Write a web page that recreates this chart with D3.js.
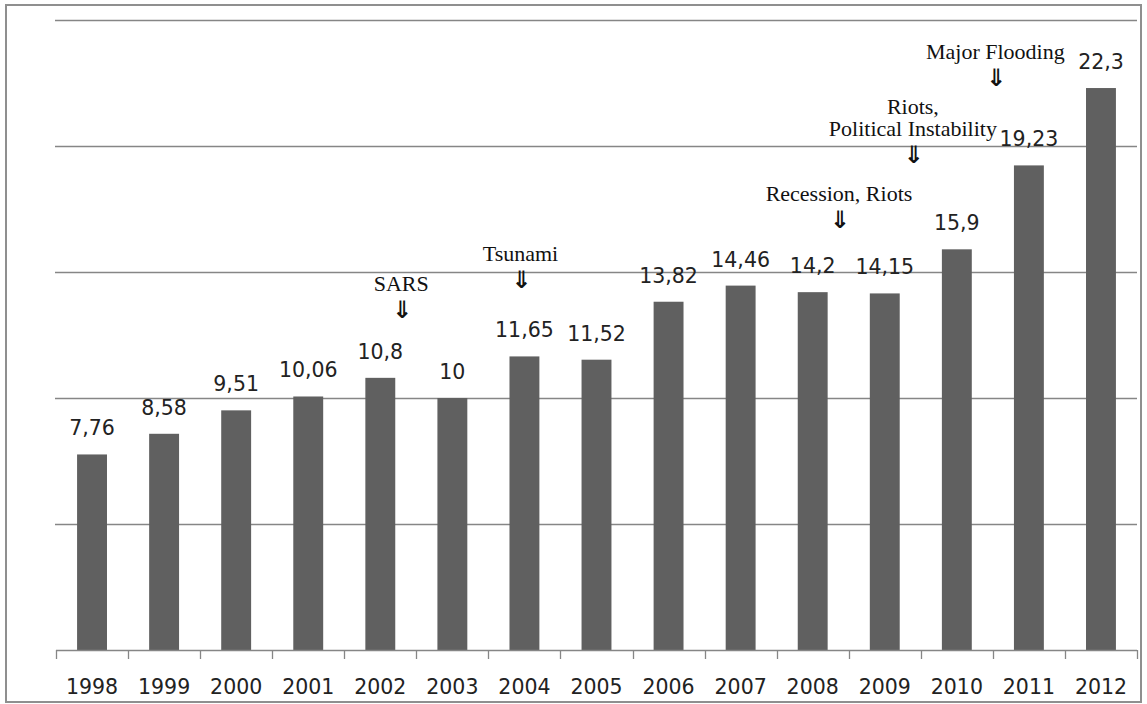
<!DOCTYPE html>
<html>
<head>
<meta charset="utf-8">
<script src="https://cdn.jsdelivr.net/npm/d3@7"></script>
<style>
  html, body { margin: 0; padding: 0; background: #fff; }
  svg { display: block; }
</style>
</head>
<body>
<svg id="chart" width="1147" height="704"></svg>
<script>
// ---- data ----
const years = ["1998","1999","2000","2001","2002","2003","2004","2005","2006","2007","2008","2009","2010","2011","2012"];
const values = [7.76, 8.58, 9.51, 10.06, 10.8, 10, 11.65, 11.52, 13.82, 14.46, 14.2, 14.15, 15.9, 19.23, 22.3];
const valueLabels = ["7,76","8,58","9,51","10,06","10,8","10","11,65","11,52","13,82","14,46","14,2","14,15","15,9","19,23","22,3"];
const yTicks = [0, 5, 10, 15, 20, 25];
// annotation events: text lines, anchor year, offset in bands from the band centre, value level of last text baseline
const eventLines = [["SARS"], ["Tsunami"], ["Recession, Riots"], ["Riots,", "Political Instability"], ["Major Flooding"]];
const eventYears = ["2002", "2004", "2008", "2009", "2011"];
const eventOffsets = [0.29, -0.055, 0.365, 0.39, -0.466];
const eventLevels = [14.24, 15.43, 17.82, 20.39, 23.45];

// ---- layout ----
const svg = d3.select("#chart");
const mLeft = 56, mRight = 1137, mTop = 20, mBottom = 650;

const x = d3.scaleBand().domain(years).range([mLeft, mRight]).padding(0);
const y = d3.scaleLinear().domain([0, 25]).range([mBottom, mTop]);
const bw = x.bandwidth();
const barW = bw * 0.415;

// frame
svg.append("rect")
  .attr("x", 6).attr("y", 5).attr("width", 1135).attr("height", 697)
  .attr("fill", "none").attr("stroke", "#8f8f8f").attr("stroke-width", 2);

// gridlines
svg.append("g").selectAll("line")
  .data(yTicks.filter(t => t > 0))
  .join("line")
  .attr("x1", mLeft - 1).attr("x2", mRight)
  .attr("y1", d => Math.round(y(d)) + 0.5).attr("y2", d => Math.round(y(d)) + 0.5)
  .attr("stroke", "#868686").attr("stroke-width", 1.3);

// bars
svg.append("g").selectAll("rect")
  .data(values)
  .join("rect")
  .attr("x", (d, i) => x(years[i]) + (bw - barW) / 2)
  .attr("width", barW)
  .attr("y", d => y(d))
  .attr("height", d => y(0) - y(d))
  .attr("fill", "#606060");

// x axis
const xAxis = d3.axisBottom(x).tickSize(0).tickPadding(0);
const gx = svg.append("g").attr("transform", `translate(0,${mBottom})`).call(xAxis);
gx.select(".domain").remove();
gx.selectAll("text")
  .attr("y", 44).attr("dy", null)
  .attr("font-family", "'DejaVu Sans', Verdana, sans-serif")
  .attr("font-size", 20.5)
  .attr("fill", "#222");
// axis line and boundary ticks
const bounds = years.map(t => x(t)).concat([x(years[years.length - 1]) + bw]);
gx.append("line").attr("x1", mLeft).attr("x2", mRight).attr("y1", 0.5).attr("y2", 0.5)
  .attr("stroke", "#868686").attr("stroke-width", 1.3);
gx.selectAll("line.bt").data(bounds).join("line").attr("class", "bt")
  .attr("x1", d => Math.round(d) + 0.5).attr("x2", d => Math.round(d) + 0.5)
  .attr("y1", 0).attr("y2", 9)
  .attr("stroke", "#868686").attr("stroke-width", 1.3);

// value labels
svg.append("g").selectAll("text")
  .data(values)
  .join("text")
  .attr("x", (d, i) => x(years[i]) + bw / 2)
  .attr("y", d => y(d) - 19)
  .attr("text-anchor", "middle")
  .attr("font-family", "'DejaVu Sans', Verdana, sans-serif")
  .attr("font-size", 20.5)
  .attr("fill", "#222")
  .text((d, i) => valueLabels[i]);

// event annotations (one text block per event: caption lines + down arrow)
const ev = svg.append("g");
eventLines.forEach((lines, i) => {
  const cx = x(eventYears[i]) + bw / 2 + eventOffsets[i] * bw;
  const base = y(eventLevels[i]);
  const t = ev.append("text")
    .attr("text-anchor", "middle")
    .attr("font-family", "'Liberation Serif', 'Times New Roman', serif")
    .attr("font-size", 22)
    .attr("fill", "#111");
  lines.forEach((ln, j) => {
    t.append("tspan")
      .attr("x", cx)
      .attr("y", base - (lines.length - 1 - j) * 22)
      .text(ln);
  });
  t.append("tspan")
    .attr("x", cx + 1)
    .attr("y", base + 27)
    .attr("font-family", "'Noto Sans CJK JP', 'DejaVu Sans', sans-serif")
    .attr("font-weight", "bold")
    .attr("font-size", 24)
    .text("\u21D3");
});
</script>
</body>
</html>
